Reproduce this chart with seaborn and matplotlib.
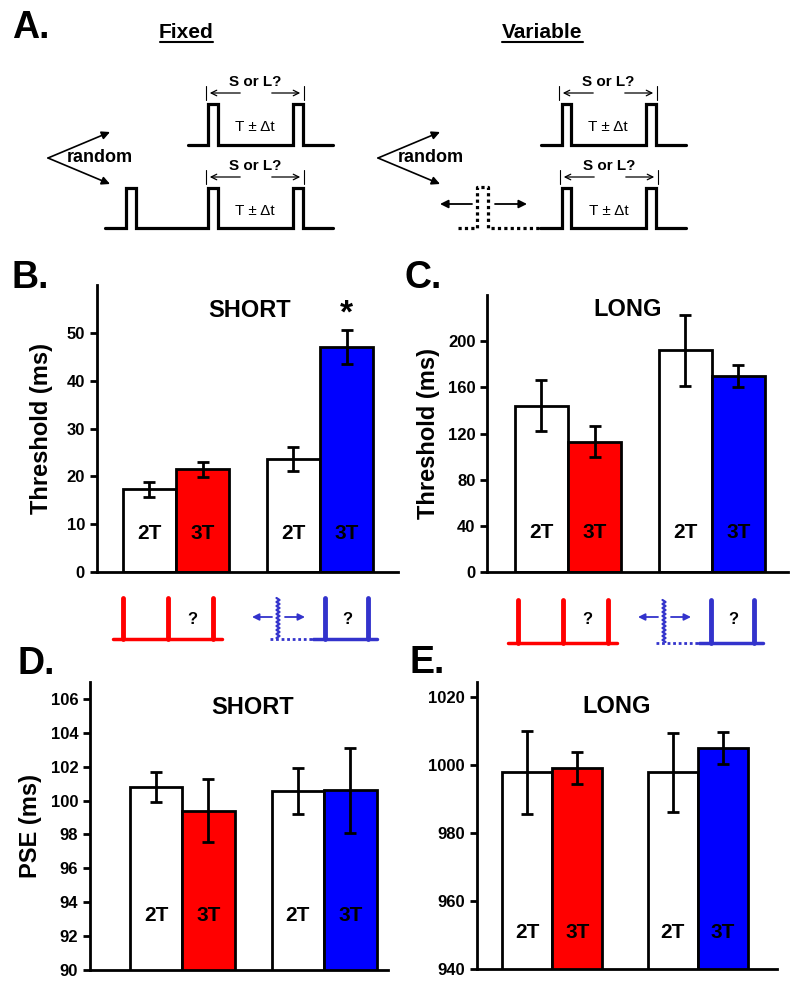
import numpy as np
import pandas as pd
import matplotlib
matplotlib.use("Agg")
import matplotlib.pyplot as plt
import seaborn as sns

# values (bar heights and error half-widths)
groups = ["Fixed", "Variable"]
conds = ["2T", "3T"]

short_thr_2t = [17.3, 23.7]
short_thr_3t = [21.5, 47.0]
short_thr_err_2t = [1.6, 2.5]
short_thr_err_3t = [1.6, 3.5]

long_thr_2t = [144.0, 192.0]
long_thr_3t = [113.0, 170.0]
long_thr_err_2t = [22.0, 30.5]
long_thr_err_3t = [13.5, 9.5]

short_pse_2t = [100.8, 100.55]
short_pse_3t = [99.4, 100.6]
short_pse_err_2t = [0.9, 1.35]
short_pse_err_3t = [1.85, 2.5]

long_pse_2t = [997.8, 997.8]
long_pse_3t = [999.0, 1005.0]
long_pse_err_2t = [12.2, 11.5]
long_pse_err_3t = [4.7, 4.8]

RED = "#ff0000"
BLUE = "#0000ff"
ICON_BLUE = "#3333cc"

sns.set_style("ticks")
plt.rcParams["font.family"] = ["Liberation Sans", "DejaVu Sans"]
plt.rcParams["font.weight"] = "bold"
plt.rcParams["text.color"] = "black"
plt.rcParams["axes.labelcolor"] = "black"
plt.rcParams["xtick.color"] = "black"
plt.rcParams["ytick.color"] = "black"
plt.rcParams["axes.edgecolor"] = "black"

fig = plt.figure(figsize=(8, 9.88), dpi=100)


def bar_panel(rect, v2, v3, e2, e3, ylim, yticks, xlim, width, title, title_xy,
              ylabel=None, ylabel_x=-0.19, inside_y=0.14):
    ax = fig.add_axes(rect)
    df = pd.DataFrame({
        "group": groups * 2,
        "cond": [conds[0]] * 2 + [conds[1]] * 2,
        "value": v2 + v3,
        "err": e2 + e3,
    })
    sns.barplot(data=df, x="group", y="value", hue="cond", order=groups,
                hue_order=conds, width=width, gap=0, errorbar=None,
                edgecolor="black", linewidth=2, legend=False, ax=ax)
    fills = [["white", "white"], [RED, BLUE]]
    for cont, cols, cond in zip(ax.containers, fills, conds):
        sub = df[df.cond == cond]
        for bar, col, val, err in zip(cont, cols, sub.value, sub.err):
            bar.set_facecolor(col)
            bar.set_edgecolor("black")
            xc = bar.get_x() + bar.get_width() / 2
            ax.errorbar(xc, val, yerr=err, fmt="none", ecolor="black",
                        elinewidth=2, capsize=4, capthick=2, zorder=5)
            ax.text(xc, inside_y, cond, transform=ax.get_xaxis_transform(),
                    ha="center", va="center", fontsize=15, fontweight="bold",
                    color="black")
    ax.set_ylim(*ylim)
    ax.set_xlim(*xlim)
    ax.set_yticks(yticks)
    ax.set_xticks([])
    ax.set_xlabel("")
    ax.set_ylabel("")
    if ylabel:
        ax.set_ylabel(ylabel, fontsize=17, fontweight="bold", va="center")
        ax.yaxis.set_label_coords(ylabel_x, 0.5)
    sns.despine(ax=ax)
    for s in ("left", "bottom"):
        ax.spines[s].set_linewidth(2)
        ax.spines[s].set_color("black")
    ax.tick_params(axis="y", width=2, length=5, labelsize=12, colors="black")
    for lab in ax.get_yticklabels():
        lab.set_fontweight("bold")
    ax.text(title_xy[0], title_xy[1], title, transform=ax.transAxes,
            ha="center", va="center", fontsize=17, fontweight="bold")
    return ax


axB = bar_panel([0.121, 0.421, 0.376, 0.2905], short_thr_2t, short_thr_3t,
                short_thr_err_2t, short_thr_err_3t, (0, 60), range(0, 51, 10),
                (-0.55, 1.54), 0.74, "SHORT", (0.508, 0.913),
                ylabel="Threshold (ms)", ylabel_x=-0.183, inside_y=0.136)
blue_bar = axB.containers[1][1]
axB.text(blue_bar.get_x() + blue_bar.get_width() / 2, 54, "*",
         ha="center", va="center", fontsize=24, fontweight="bold")

bar_panel([0.609, 0.421, 0.376, 0.2804], long_thr_2t, long_thr_3t,
          long_thr_err_2t, long_thr_err_3t, (0, 240), range(0, 201, 40),
          (-0.5625, 1.53), 0.74, "LONG", (0.468, 0.946),
          ylabel="Threshold (ms)", ylabel_x=-0.196, inside_y=0.141)

bar_panel([0.1125, 0.0182, 0.3725, 0.2915], short_pse_2t, short_pse_3t,
          short_pse_err_2t, short_pse_err_3t, (90, 107), range(90, 107, 2),
          (-0.65, 1.45), 0.74, "SHORT", (0.544, 0.91),
          ylabel="PSE (ms)", ylabel_x=-0.20, inside_y=0.19)

bar_panel([0.596, 0.0192, 0.375, 0.2905], long_pse_2t, long_pse_3t,
          long_pse_err_2t, long_pse_err_3t, (940, 1024.4), range(940, 1021, 20),
          (-0.52, 1.545), 0.69, "LONG", (0.467, 0.913), inside_y=0.129)

# ---- schematic overlay in pixel coordinates ----
dg = fig.add_axes([0, 0, 1, 1])
dg.set_xlim(0, 800)
dg.set_ylim(988, 0)
dg.axis("off")


def trace(x0, x1, y, pulses, h, **kw):
    xs, ys = [x0], [y]
    for a, b in pulses:
        xs += [a, a, b, b]
        ys += [y, y - h, y - h, y]
    xs.append(x1)
    ys.append(y)
    dg.plot(xs, ys, color="black", lw=2.3, solid_joinstyle="miter", **kw)


def sorl(xl, xr, y):
    for xx in (xl, xr):
        dg.plot([xx, xx], [y - 7, y + 7], color="black", lw=0.8)
    dg.annotate("", xy=(xl + 1, y), xytext=(xl + 37, y),
                arrowprops=dict(arrowstyle="->", lw=0.9, color="black"))
    dg.annotate("", xy=(xr - 1, y), xytext=(xr - 35, y),
                arrowprops=dict(arrowstyle="->", lw=0.9, color="black"))
    cx = (xl + xr) / 2
    dg.text(cx, y - 11, "S or L?", ha="center", va="center", fontsize=11,
            fontweight="bold")
    dg.text(cx, y + 34, "T \u00b1 \u0394t", ha="center", va="center",
            fontsize=11, fontweight="normal")


def rnd(vx, tx, ex):
    for ey in (132, 184):
        dg.annotate("", xy=(ex, ey), xytext=(vx, 158),
                    arrowprops=dict(arrowstyle="-|>", lw=1.2, color="black",
                                    mutation_scale=12, shrinkA=0, shrinkB=0))
    dg.text(tx, 158, "random", ha="center", va="center", fontsize=13,
            fontweight="bold")


dg.text(12, 28, "A.", ha="left", va="center", fontsize=27, fontweight="bold")
dg.text(186, 32, "Fixed", ha="center", va="center", fontsize=15, fontweight="bold")
dg.plot([160, 213], [42, 42], color="black", lw=1.5)
dg.text(542, 32, "Variable", ha="center", va="center", fontsize=15,
        fontweight="bold")
dg.plot([502, 583], [42, 42], color="black", lw=1.5)

trace(188, 333, 145, [(208, 218), (293, 303)], 41)
trace(105, 333, 228, [(126, 136), (208, 218), (293, 303)], 40)
sorl(206, 304, 93)
sorl(206, 304, 177)
rnd(48, 100, 110)

trace(541, 686, 145, [(562, 571), (646, 656)], 41)
trace(540, 686, 228, [(562, 571), (646, 656)], 40)
trace(458, 540, 228, [(477, 488)], 41, ls=(0, (1, 1)))
sorl(559, 657, 93)
sorl(560, 658, 177)
rnd(378, 431, 440)
for tail, tip in (((472, 204), (440, 204)), ((495, 204), (527, 204))):
    dg.annotate("", xy=tip, xytext=tail,
                arrowprops=dict(arrowstyle="-|>", lw=1.3, color="black",
                                mutation_scale=12, shrinkA=0, shrinkB=0))

for lab, x, y in (("B.", 12, 278), ("C.", 405, 278), ("D.", 17, 664), ("E.", 410, 663)):
    dg.text(x, y, lab, ha="left", va="center", fontsize=27, fontweight="bold")


def icons(ox, oxb, by, top):
    dg.plot([113 + ox, 222 + ox], [by, by], color=RED, lw=2.5)
    for xx in (123, 168, 213):
        dg.plot([xx + ox, xx + ox], [top, by], color=RED, lw=3.5)
    dg.text(192 + ox, 619, "?", ha="center", va="center", fontsize=12,
            fontweight="bold")
    dg.plot([270 + oxb, 313 + oxb], [by, by], color=ICON_BLUE, lw=2,
            ls=(0, (1, 1)))
    dg.plot([313 + oxb, 377 + oxb], [by, by], color=ICON_BLUE, lw=2.5)
    yy = np.arange(top, by + 0.1, 2.0)
    xx = 278 + oxb + np.where(np.arange(len(yy)) % 2 == 0, -1.5, 1.5)
    dg.plot(xx, yy, color=ICON_BLUE, lw=1.6)
    for xv in (325, 368):
        dg.plot([xv + oxb, xv + oxb], [top, by], color=ICON_BLUE, lw=3.5)
    dg.text(347 + oxb, 619, "?", ha="center", va="center", fontsize=12,
            fontweight="bold")
    for tail, tip in (((272, 617), (252, 617)), ((285, 617), (305, 617))):
        dg.annotate("", xy=(tip[0] + oxb, tip[1]), xytext=(tail[0] + oxb, tail[1]),
                    arrowprops=dict(arrowstyle="-|>", lw=1.3, color=ICON_BLUE,
                                    mutation_scale=10, shrinkA=0, shrinkB=0))


icons(0, 0, 639, 598)
icons(395, 386, 643, 600)

fig.savefig("out.png", dpi=100)
